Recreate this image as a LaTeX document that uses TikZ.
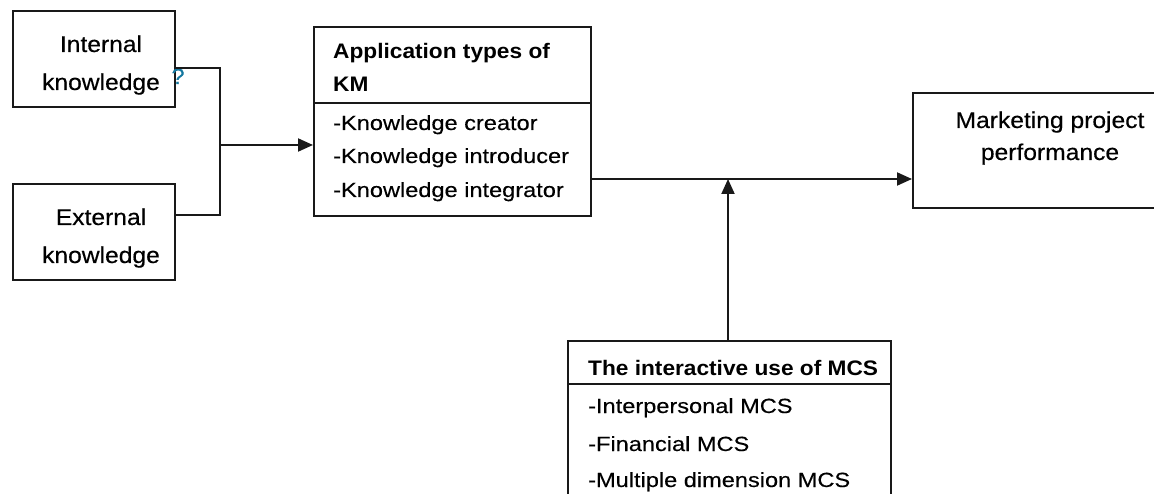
\documentclass[tikz,border=0pt]{standalone}
\usepackage{fontspec}
\setmainfont{Liberation Sans}
\newfontfamily\bigf{Liberation Sans}[FakeStretch=1.08,FakeBold=0.4]
\newfontfamily\smallf{Liberation Sans}[FakeStretch=1.15,FakeBold=0.3]
\newfontfamily\titlef{Liberation Sans}[FakeStretch=1.08]
\usetikzlibrary{arrows.meta}
\definecolor{qteal}{RGB}{20,120,160}
\begin{document}
\begin{tikzpicture}[x=1pt,y=-1pt,
  box/.style={draw=black!90,line width=2pt,inner sep=0pt,anchor=north west},
  bigtxt/.style={inner sep=0pt,anchor=base,font=\fontsize{22.8}{27}\bigf},
  itemtxt/.style={inner sep=0pt,anchor=base west,font=\fontsize{20.5}{25}\smallf},
  titletxt/.style={inner sep=0pt,anchor=base west,font=\fontsize{21}{25}\titlef\bfseries},
  conn/.style={line width=2pt,black!90},
  arr/.style={conn,-{Triangle[length=15pt,width=13pt]}}]
\useasboundingbox (0,0) rectangle (1154,494);
\clip (0,0) rectangle (1154,494);
\fill[white] (0,0) rectangle (1154,494);
% boxes
\node[box,minimum width=162pt,minimum height=96pt] (int) at (12,10) {};
\node[box,minimum width=162pt,minimum height=96pt] (ext) at (12,183) {};
\node[box,minimum width=277pt,minimum height=189pt] (app) at (313,26) {};
\node[box,minimum width=280pt,minimum height=115pt] (mkt) at (912,92) {};
\node[box,minimum width=323pt,minimum height=190pt] (mcs) at (567,340) {};
% dividers
\coordinate (appdiv) at (0,103.5);
\draw[conn] (app.west |- appdiv) -- (app.east |- appdiv);
\coordinate (mcsdiv) at (0,384);
\draw[conn] (mcs.west |- mcsdiv) -- (mcs.east |- mcsdiv);
% texts
\node[bigtxt] (t1) at (101,52) {Internal};
\node[bigtxt] (t2) at (101,90) {knowledge};
\node[inner sep=0pt,anchor=base,text=qteal,font=\fontsize{22}{24}\bigf] (qm) at (178,84) {?};
\node[bigtxt] (t3) at (101,225) {External};
\node[bigtxt] (t4) at (101,263) {knowledge};
\node[titletxt] (a1) at (333,59) {Application types of};
\node[titletxt] (a2) at (333,92) {KM};
\node[itemtxt] (a3) at (333,130) {-Knowledge creator};
\node[itemtxt] (a4) at (333,163) {-Knowledge introducer};
\node[itemtxt] (a5) at (333,197) {-Knowledge integrator};
\node[bigtxt] (m1) at (1050,128) {Marketing project};
\node[bigtxt] (m2) at (1050,160) {performance};
\node[titletxt] (c1) at (588,375) {The interactive use of MCS};
\node[itemtxt] (c2) at (588,413) {-Interpersonal MCS};
\node[itemtxt] (c3) at (588,451) {-Financial MCS};
\node[itemtxt] (c4) at (588,487) {-Multiple dimension MCS};
% connectors
\coordinate (jt) at (220,68);
\coordinate (jb) at (220,215);
\coordinate (jm) at (220,145);
\coordinate (ln) at (0,179);
\coordinate (up) at (728,179);
\draw[conn] (int.east |- jt) -- (jt) -- (jb) -- (ext.east |- jb);
\draw[arr] (jm) -- (app.west |- jm);
\draw[arr] (app.east |- ln) -- (mkt.west |- ln);
\draw[arr] (mcs.north -| up) -- (up);
\end{tikzpicture}
\end{document}
